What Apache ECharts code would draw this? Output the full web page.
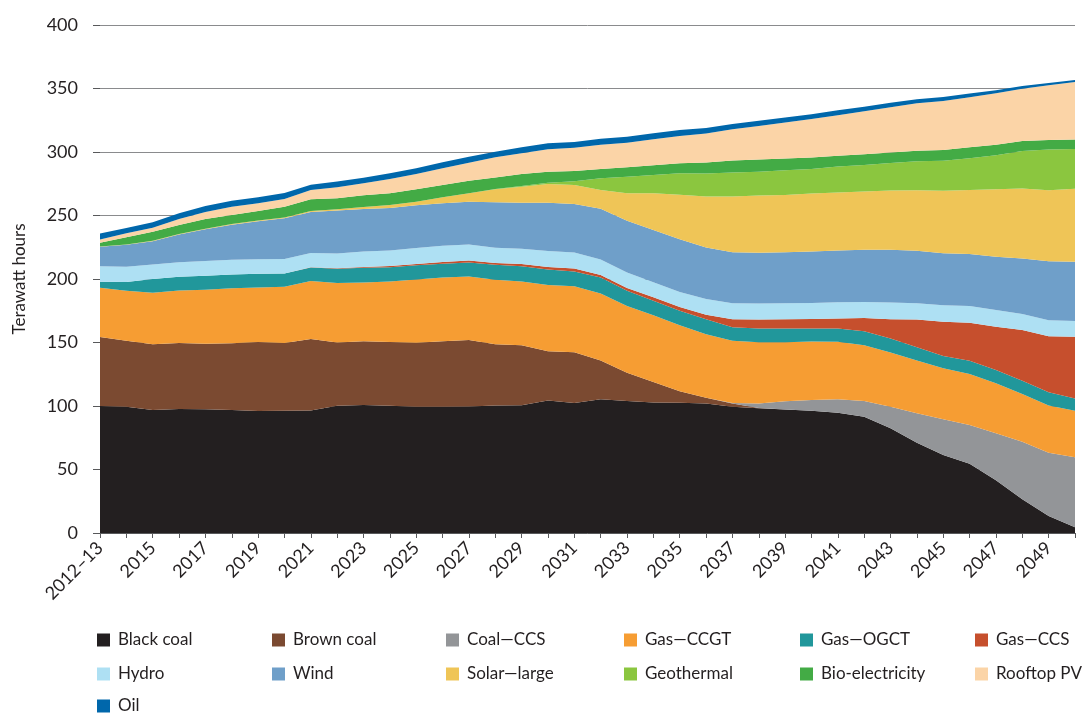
<!DOCTYPE html>
<html>
<head>
<meta charset="utf-8">
<script src="https://cdn.jsdelivr.net/npm/echarts@6/dist/echarts.min.js"></script>
<style>html,body{margin:0;padding:0;background:#fff}#c{width:1091px;height:713px}</style>
</head>
<body>
<div id="c"></div>
<script>
const categories = ['2012–13','2014','2015','2016','2017','2018','2019','2020','2021','2022','2023','2024','2025','2026','2027','2028','2029','2030','2031','2032','2033','2034','2035','2036','2037','2038','2039','2040','2041','2042','2043','2044','2045','2046','2047','2048','2049','2050'];
const yTicks = [0, 50, 100, 150, 200, 250, 300, 350, 400];

const blackCoal = [100,99.5,96.8,97.6,97.4,96.9,96,96.2,96.5,100.2,100.8,100.2,99.5,99.5,99.7,100.3,100.5,104.4,102.3,105.4,104,102.8,102.5,102,99.5,98.2,97.2,96.3,94.7,91.6,82.5,71,61.5,54.5,41.5,26.5,13.4,4.5];
const brownCoal = [54.3,51.9,51.8,52.1,51.6,52.6,54.3,53.5,56.3,49.8,50.2,50.1,50.4,51.4,52.2,48.3,47.3,38.8,40,30.5,22.2,16.1,9.1,4.5,2.5,0.3,0,0,0,0,0,0,0,0,0,0,0,0];
const coalCCS = [0,0,0,0,0,0,0,0,0,0,0,0,0,0,0,0,0,0,0,0,0,0,0,0,0.3,3.5,6.5,8.4,10.6,12.3,17,23.2,28,30.5,37,45.4,49.8,55.1];
const gasCCGT = [38.9,39.3,40.6,41.3,42.6,43.3,43.1,44.1,45.7,46.9,46.2,47.7,49.7,50.3,50.1,50.8,50.2,52.1,52,52.6,52.6,52.5,51.9,50,49,48.1,46.5,46,45.2,43.9,42.7,41.6,40.2,40.2,39.4,37.5,37.2,36.7];
const gasOGCT = [4.6,7,10.8,10.7,10.9,10.7,10.7,10.6,10.5,11.2,11.6,11.3,11.2,10.8,11,11.8,12,12.1,11.7,12.7,11.9,11.4,11.5,11.8,10.7,11,10.8,10.3,10.5,11,11,10.5,9.7,10.5,10.4,10.4,10.5,9.7];
const gasCCS = [0,0,0,0,0,0,0,0,0.2,0.4,0.7,1,1,1.3,1.6,1.4,1.8,2,2.3,1.9,2.2,2.8,3,3.5,6.4,7.1,7.3,7.5,7.8,10.5,15.2,21.8,27,29.9,34.2,40,44.1,48.6];
const hydro = [12.2,11.9,11.5,11.4,11.6,11.7,11.5,11.3,11.3,11.5,12.2,12.2,12.6,12.9,12.5,12.1,12,12.7,12.5,12.2,12.2,11.8,11.8,12.5,12.5,12.5,12.6,12.7,12.9,12.6,13.1,12.8,12.9,13.1,13.1,12.6,12.6,12.4];
const wind = [15.3,17.3,18.3,21.9,25,27.6,29.9,32.2,32.3,33.9,33.5,33.5,33.6,33.4,33.8,35.7,36.3,38,38.3,40,40.7,41.1,41.5,40.5,40.2,39.9,40.2,40.4,40.7,41.2,41.5,41.3,40.9,41,42,43.8,46.4,46.6];
const solarLarge = [0.3,0.3,0.4,0.4,0.5,0.5,0.6,0.6,0.8,1.1,1.4,2.3,2.9,4.7,6.6,10.2,12.6,14.7,14.9,14.8,21.7,29,35.1,40.2,43.8,45.2,45.1,45.7,45.7,45.7,46.7,47.7,49.3,50.4,53,55.1,55.9,57.5];
const geothermal = [0,0,0,0,0,0,0,0,0,0,0,0,0,0,0,0.3,0.5,1,3,9.2,13.1,14.4,16.8,18,18.9,18.6,19.4,19.4,20.4,21,21.6,22.9,23.7,24.9,26.8,29.4,32.1,31.3];
const bioElectricity = [3,5.6,7,7.1,7.6,7.1,7.4,8.4,9.2,8.5,9.3,9.2,9.7,9.7,9.9,9.1,9.5,8.7,8,7.3,7.3,7.7,7.9,8.8,9.5,9.7,9.2,8.9,8.5,8.4,8.4,8.1,8.4,8.7,8.4,7.9,7.4,7.5];
const rooftopPV = [2.6,3.2,3.2,4.7,5.6,6.5,6.1,6.1,7.2,8.7,9.5,11.2,12.1,13.2,14.2,15.8,16.3,17.6,18.4,19.1,19.4,20.4,21.5,22.8,24.6,26.4,28.4,30.3,32,33.9,35.5,37.4,38.6,39.5,40.4,41.3,43.2,45.2];
const oil = [4.6,4.2,4.2,4.5,4.6,4.7,4.8,4.8,4.3,4.5,4.4,4.5,4.5,4.7,4.7,4.4,4.7,4.7,4.4,4.8,4.8,4.8,4.7,4.3,4.2,4.1,4,3.9,3.8,3.6,3.5,3.3,3.1,2.8,2.5,2.1,1.8,1.6];

const seriesNames = ['Black coal','Brown coal','Coal—CCS','Gas—CCGT','Gas—OGCT','Gas—CCS','Hydro','Wind','Solar—large','Geothermal','Bio-electricity','Rooftop PV','Oil'];
const seriesData = [blackCoal, brownCoal, coalCCS, gasCCGT, gasOGCT, gasCCS, hydro, wind, solarLarge, geothermal, bioElectricity, rooftopPV, oil];
const seriesColors = ['#231f20','#7b4a31','#939598','#f69d33','#21979b','#c64f2d','#aee0f3','#6f9fc9','#efc557','#8bc63f','#43ab45','#fbd4a7','#0067ab'];

const FONT = 'Lato';
const TXT = '#231f20';

const legendRows = [
  ['Black coal','Brown coal','Coal—CCS','Gas—CCGT','Gas—OGCT','Gas—CCS'],
  ['Hydro','Wind','Solar—large','Geothermal','Bio-electricity','Rooftop PV'],
  ['Oil']
];
const legendColLeft = [97, 272, 446, 624, 800, 975];
const legendRowTop = [630, 664, 696];

const legends = [];
legendRows.forEach((row, r) => {
  row.forEach((name, c) => {
    legends.push({
      data: [name],
      left: legendColLeft[c],
      top: legendRowTop[r],
      padding: 0,
      icon: 'rect',
      itemWidth: 13,
      itemHeight: 13,
      selectedMode: false,
      textStyle: {fontFamily: FONT, fontSize: 17, color: TXT, lineHeight: 20, padding: [0, 0, 0, 3]}
    });
  });
});

const chart = echarts.init(document.getElementById('c'), null, {renderer: 'canvas'});

const option = {
  animation: false,
  backgroundColor: '#fff',
  color: seriesColors,
  grid: {left: 100, right: 16, top: 25, bottom: 180, containLabel: false},
  legend: legends,
  xAxis: {
    type: 'category',
    data: categories,
    boundaryGap: false,
    axisLine: {show: true, lineStyle: {color: '#58595b', width: 1}},
    axisTick: {show: true, interval: 0, length: 5, lineStyle: {color: '#58595b'}},
    axisLabel: {interval: 1, rotate: 45, margin: 12, fontFamily: FONT, fontSize: 18, color: TXT},
    splitLine: {show: false}
  },
  yAxis: {
    type: 'value',
    min: yTicks[0],
    max: yTicks[yTicks.length - 1],
    interval: 50,
    name: 'Terawatt hours',
    nameLocation: 'middle',
    nameRotate: 90,
    nameGap: 72,
    nameTextStyle: {fontFamily: FONT, fontSize: 17, color: TXT},
    axisLine: {show: false},
    axisTick: {show: true, length: 7, lineStyle: {color: '#58595b'}},
    axisLabel: {margin: 22, fontFamily: FONT, fontSize: 18, color: TXT},
    splitLine: {show: true, lineStyle: {color: '#8a8b8d', width: 1}}
  },
  series: seriesNames.map((name, i) => ({
    name: name,
    type: 'line',
    stack: 'total',
    data: seriesData[i],
    showSymbol: false,
    symbol: 'none',
    smooth: false,
    lineStyle: {width: 0},
    areaStyle: {color: seriesColors[i], opacity: 1},
    itemStyle: {color: seriesColors[i]},
    emphasis: {disabled: true},
    z: 2
  }))
};
chart.setOption(option);
</script>
</body>
</html>
